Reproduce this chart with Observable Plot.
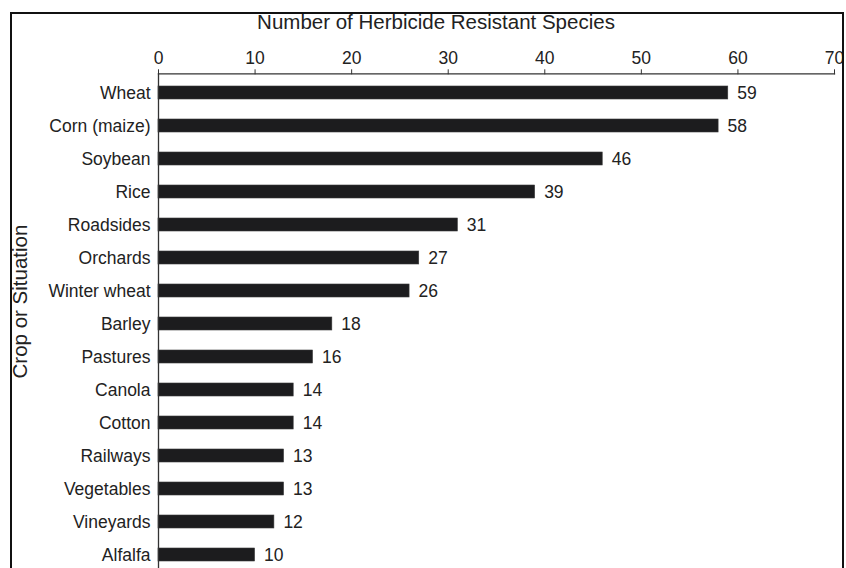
<!DOCTYPE html>
<html>
<head>
<meta charset="utf-8">
<script src="https://cdn.jsdelivr.net/npm/d3@7"></script>
<script src="https://cdn.jsdelivr.net/npm/@observablehq/plot@0.6"></script>
<style>
  html, body { margin: 0; padding: 0; background: #fff; overflow: hidden; }
  #wrap { position: relative; width: 846px; height: 568px; }
  #border { position: absolute; left: 10px; top: 12px; width: 830px; height: 620px;
            border: 2px solid #111; border-bottom: none; pointer-events: none; }
</style>
</head>
<body>
<div id="wrap"><div id="chart"></div><div id="border"></div></div>
<script>
const categories = ["Wheat", "Corn (maize)", "Soybean", "Rice", "Roadsides", "Orchards", "Winter wheat",
  "Barley", "Pastures", "Canola", "Cotton", "Railways", "Vegetables", "Vineyards", "Alfalfa"];
const values = [59, 58, 46, 39, 31, 27, 26, 18, 16, 14, 14, 13, 13, 12, 10];
const xTicks = [0, 10, 20, 30, 40, 50, 60, 70];
const xTitle = "Number of Herbicide Resistant Species";
const yTitle = "Crop or Situation";

const data = categories.map((c, i) => ({name: c, value: values[i]}));
const font = "'Liberation Sans', Arial, Helvetica, sans-serif";

const chart = Plot.plot({
  width: 846,
  height: 568,
  marginTop: 73.3,
  marginLeft: 158,
  marginRight: 12,
  marginBottom: 0,
  style: {fontFamily: font, fontSize: "17.5px", color: "#222", background: "transparent"},
  x: {domain: [0, 70]},
  y: {domain: categories, range: [73.3, 573], paddingInner: 0.6, paddingOuter: 0.33},
  marks: [
    Plot.barX(data, {x: "value", y: "name", fill: "#1c1c1e", stroke: "#3a3a3a", strokeWidth: 0.6}),
    Plot.text(data, {x: "value", y: "name", text: d => String(d.value), textAnchor: "start", dx: 9, fontSize: 17.5, fill: "#222"}),
    Plot.ruleX([0], {stroke: "#333", strokeWidth: 1.3}),
    Plot.frame({anchor: "top", stroke: "#333", strokeWidth: 1.3}),
    Plot.axisX({anchor: "top", ticks: xTicks, tickSize: 5, tickPadding: 5, fontSize: 17.5, label: null, stroke: "#333"}),
    Plot.axisY({tickSize: 0, tickPadding: 8, fontSize: 17.5, label: null}),
    Plot.text([xTitle], {frameAnchor: "top", textAnchor: "middle", lineAnchor: "middle", dx: -60.5, dy: -51, fontSize: 20.5, fill: "#222"}),
    Plot.text([yTitle], {frameAnchor: "left", textAnchor: "middle", lineAnchor: "middle", rotate: -90, dx: -138, dy: -19.6, fontSize: 20.5, fill: "#222"})
  ]
});
document.getElementById("chart").appendChild(chart);
</script>
</body>
</html>
